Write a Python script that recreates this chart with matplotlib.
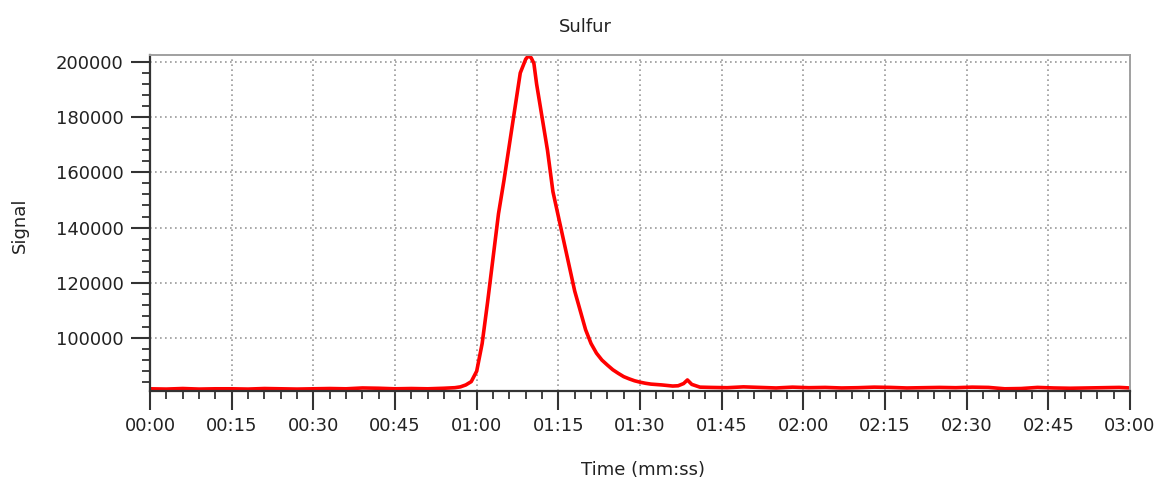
import numpy as np
import matplotlib.pyplot as plt
from matplotlib.ticker import MultipleLocator, FuncFormatter

plt.rcParams['font.family'] = ['DejaVu Sans']

# time in seconds, signal in counts
time_s = [0, 3, 6, 9, 12, 15, 18, 21, 24, 27, 30, 33, 36, 39, 42, 45, 48, 51, 54, 56,
          57, 58, 59, 60, 61, 62, 63, 64, 65, 66, 67, 68, 69, 69.5, 70, 70.5, 71, 72,
          73, 74, 75, 76, 77, 78, 79, 80, 81, 82, 83, 84, 85, 86, 87, 88, 89, 90, 91,
          92, 94, 96, 97, 98, 98.7, 99.5, 101,
          103, 106, 109, 112, 115, 118, 121, 124, 127, 130, 133, 136, 139, 142, 145,
          148, 151, 154, 157, 160, 163, 166, 169, 172, 175, 178, 180]
signal = [81600, 81500, 81700, 81500, 81600, 81600, 81500, 81700, 81600, 81500, 81600,
          81700, 81600, 81900, 81800, 81600, 81700, 81600, 81800, 82000,
          82300, 83000, 84200, 88000, 98000, 113000, 129000, 145000, 157000, 170000,
          183000, 196000, 201000, 202200, 201500, 199500, 192000, 180000,
          168000, 153000, 144000, 135000, 126000, 117000, 110000, 103000, 98000, 94500,
          92000, 90200, 88500, 87200, 86000, 85200, 84500, 84000, 83600,
          83300, 83000, 82600, 82700, 83500, 84800, 83200, 82200,
          82100, 82000, 82300, 82100, 81900, 82200, 82000, 82100, 81900, 82000, 82200,
          82100, 81900, 82000, 82100, 82000, 82200, 82100, 81600, 81700, 82100, 81900,
          81800, 81900, 82000, 82100, 81900]

def mmss(x, pos):
    x = int(round(x))
    return "%02d:%02d" % (x // 60, x % 60)

fig = plt.figure(figsize=(11.55, 4.8), dpi=100)
ax = fig.add_axes([0.1299, 0.1854, 0.8485, 0.7])

ax.plot(time_s, signal, color='#ff0000', lw=2.6)

ax.set_xlim(0, 180)
ax.set_ylim(80800, 202500)
ax.xaxis.set_major_locator(MultipleLocator(15))
ax.xaxis.set_minor_locator(MultipleLocator(3))
ax.xaxis.set_major_formatter(FuncFormatter(mmss))
ax.yaxis.set_major_locator(MultipleLocator(20000))
ax.yaxis.set_minor_locator(MultipleLocator(4000))

ax.grid(True, which='major', color='#999999', linestyle=(0, (1, 2)), lw=1.2)

for s in ['left', 'bottom']:
    ax.spines[s].set_color('#333333')
    ax.spines[s].set_linewidth(1.6)
for s in ['top', 'right']:
    ax.spines[s].set_color('#a0a0a0')
    ax.spines[s].set_linewidth(1.4)

ax.tick_params(which='major', length=14, width=1.5, color='#333333',
               labelsize=13, labelcolor='#222222', pad=5)
ax.tick_params(which='minor', length=5.5, width=1.3, color='#333333')

fig.text(0.5065, 0.944, "Sulfur", ha='center', va='center', fontsize=13, color='#222222')
fig.text(0.0173, 0.53, "Signal", ha='center', va='center', rotation=90, fontsize=13, color='#222222')
fig.text(0.5567, 0.021, "Time (mm:ss)", ha='center', va='center', fontsize=13, color='#222222')

fig.savefig("out.png", dpi=100)
